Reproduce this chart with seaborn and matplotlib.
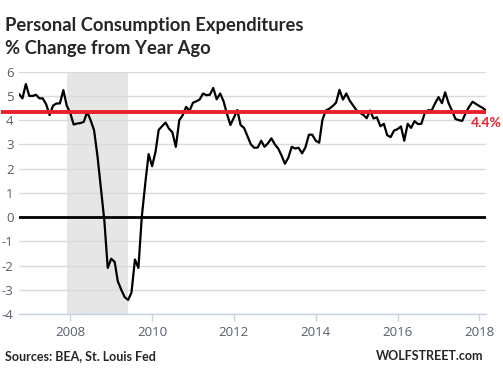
import pandas as pd
import seaborn as sns
import matplotlib.pyplot as plt
import matplotlib.dates as mdates

# PCE, % change from year ago, monthly from Oct 2006 to Mar 2018
pce_yoy = [
    5.08, 4.90, 5.49, 5.00, 5.00, 5.05, 4.90, 4.90, 4.65, 4.21,
    4.60, 4.69, 4.69, 5.24, 4.60, 4.30, 3.82, 3.86, 3.88, 3.93,
    4.34, 4.00, 3.59, 2.50, 1.20, -0.15, -2.10, -1.72, -1.85, -2.65,
    -3.00, -3.30, -3.42, -3.12, -1.75, -2.10, 0.00, 1.38, 2.60, 2.10,
    2.70, 3.60, 3.75, 3.90, 3.65, 3.50, 2.90, 4.00, 4.20, 4.55,
    4.38, 4.72, 4.78, 4.85, 5.10, 5.03, 5.05, 5.33, 4.86, 5.10,
    4.78, 4.25, 3.80, 4.10, 4.42, 3.80, 3.68, 3.35, 3.00, 2.86,
    2.87, 3.15, 2.90, 3.05, 3.25, 3.00, 2.82, 2.55, 2.20, 2.45,
    2.90, 2.83, 2.86, 2.63, 2.88, 3.40, 3.40, 3.15, 3.07, 4.00,
    4.40, 4.47, 4.58, 4.72, 5.25, 4.85, 5.10, 4.80, 4.60, 4.40,
    4.30, 4.22, 4.08, 4.40, 4.07, 4.12, 3.75, 3.85, 3.38, 3.30,
    3.57, 3.63, 3.74, 3.15, 3.85, 3.68, 3.96, 3.84, 3.85, 4.30,
    4.41, 4.40, 4.69, 4.95, 4.70, 5.15, 4.70, 4.40, 4.05, 4.00,
    3.97, 4.30, 4.55, 4.76, 4.67, 4.58, 4.50, 4.40,
]
start_month = "2006-10-01"
recession = ["2007-12-01", "2009-06-01"]
latest_level = 4.33
latest_label = "4.4%"
year_ticks = [2008, 2010, 2012, 2014, 2016, 2018]
y_ticks = list(range(-4, 7))

df = pd.DataFrame({
    "date": pd.date_range(start_month, periods=len(pce_yoy), freq="MS"),
    "pce": pce_yoy,
})

sns.set_style("white")
plt.rcParams["font.family"] = ["Open Sans", "DejaVu Sans"]
plt.rcParams["axes.unicode_minus"] = False

fig = plt.figure(figsize=(5.03, 3.74), dpi=100)
ax = fig.add_axes([19 / 503, (374 - 314) / 374, (486 - 19) / 503, (314 - 71.7) / 374])

ax.axvspan(pd.Timestamp(recession[0]), pd.Timestamp(recession[1]),
           color="#e6e6e6", lw=0, zorder=0)
ax.yaxis.grid(True, color="#dadada", lw=1, zorder=0.5)
ax.axhline(0, color="black", lw=2, zorder=2)

sns.lineplot(data=df, x="date", y="pce", ax=ax, color="black", lw=1.6, zorder=3)

# red reference line runs left past the axis labels
ax.plot([-18 / 467, 1], [latest_level, latest_level], color="#e8212b", lw=2.8,
        transform=ax.get_yaxis_transform(), clip_on=False, zorder=4,
        solid_capstyle="butt")
ax.text(1.0, latest_level - 0.45, latest_label, transform=ax.get_yaxis_transform(),
        color="#e8212b", fontsize=10, fontweight="bold", ha="center", va="center",
        family=["Lato", "DejaVu Sans"])

ax.set_xlim(df["date"].iloc[0], df["date"].iloc[-1])
ax.set_ylim(-4, 6)
ax.set_yticks(y_ticks)
ax.set_xticks([pd.Timestamp(f"{y}-01-01") for y in year_ticks])
ax.xaxis.set_major_formatter(mdates.DateFormatter("%Y"))
ax.set_xlabel("")
ax.set_ylabel("")

for side in ["top", "right", "left"]:
    ax.spines[side].set_visible(False)
ax.spines["bottom"].set_color("#c5d3e6")
ax.spines["bottom"].set_linewidth(1)
ax.tick_params(axis="x", colors="#555f6b", length=5, width=1, color="#c5d3e6",
               labelsize=9.5, pad=4, direction="out", bottom=True)
ax.tick_params(axis="y", colors="#555f6b", length=0, labelsize=9.5, pad=4)

fig.text(5 / 503, 1 - 30.5 / 374, "Personal Consumption Expenditures",
         fontsize=13.2, fontweight="bold", family=["Lato", "DejaVu Sans"], va="baseline")
fig.text(5 / 503, 1 - 54 / 374, "% Change from Year Ago",
         fontsize=13.2, fontweight="bold", family=["Lato", "DejaVu Sans"], va="baseline")
fig.text(5 / 503, 1 - 360 / 374, "Sources: BEA, St. Louis Fed",
         fontsize=9, fontweight="bold", family=["Lato", "DejaVu Sans"], va="baseline")
fig.text(483 / 503, 1 - 360 / 374, "WOLFSTREET.com",
         fontsize=9, fontweight="bold", family=["Lato", "DejaVu Sans"], va="baseline", ha="right")

fig.savefig("out.png", dpi=100)
